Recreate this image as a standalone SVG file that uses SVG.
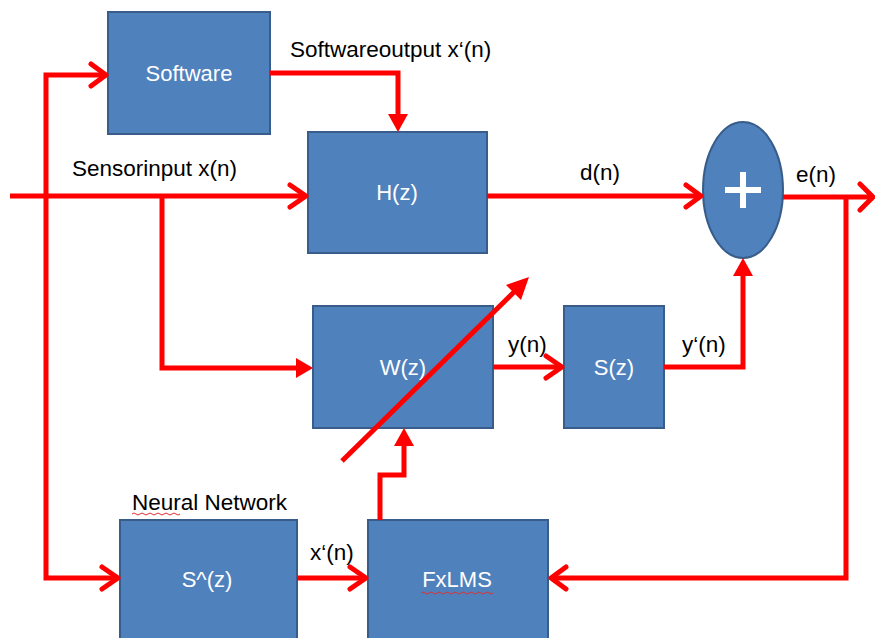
<svg xmlns="http://www.w3.org/2000/svg" width="875" height="638" viewBox="0 0 875 638">
  <defs>
    <style>
      .blk { fill: #4f81bd; stroke: #385d8a; stroke-width: 2; }
      .in { font-family: "Liberation Sans", Arial, sans-serif; font-size: 22px; fill: #ffffff; text-anchor: middle; }
      .lbl { font-family: "Liberation Sans", Arial, sans-serif; font-size: 22.5px; fill: #000000; }
      .wire { fill: none; stroke: #ff0000; stroke-width: 5; stroke-linejoin: miter; }
      .chev { fill: none; stroke: #ff0000; stroke-width: 5; stroke-linecap: round; stroke-linejoin: round; }
      .tri { fill: #ff0000; }
      .squig { fill: none; stroke: #e03030; stroke-width: 1; }
    </style>
  </defs>
  <rect width="875" height="638" fill="#ffffff"/>

  <!-- blocks -->
  <g id="software">
    <rect class="blk" x="108" y="12" width="162" height="122"/>
    <text class="in" x="189" y="81">Software</text>
  </g>
  <g id="hz">
    <rect class="blk" x="308" y="132" width="179" height="121"/>
    <text class="in" x="397" y="200">H(z)</text>
  </g>
  <g id="wz">
    <rect class="blk" x="313" y="306" width="180" height="122"/>
    <text class="in" x="403" y="375">W(z)</text>
  </g>
  <g id="sz">
    <rect class="blk" x="564" y="306" width="100" height="122"/>
    <text class="in" x="614" y="375">S(z)</text>
  </g>
  <g id="shatz">
    <rect class="blk" x="120" y="520" width="177" height="125"/>
    <text class="in" x="207" y="587">S^(z)</text>
  </g>
  <g id="fxlms">
    <rect class="blk" x="368" y="520" width="180" height="125"/>
    <text class="in" x="457" y="587">FxLMS</text>
    <path class="squig" d="M421,593 q2,-2 4,0 t4,0 t4,0 t4,0 t4,0 t4,0 t4,0 t4,0 t4,0 t4,0 t4,0 t4,0 t4,0 t4,0 t4,0 t4,0 t4,0 t4,0"/>
  </g>
  <g id="sum">
    <ellipse class="blk" cx="743" cy="190" rx="40" ry="68"/>
    <path d="M743,172 V208 M725,190 H761" stroke="#ffffff" stroke-width="6" fill="none"/>
  </g>

  <!-- labels -->
  <g id="labels">
    <text class="lbl" x="290" y="57">Softwareoutput x‘(n)</text>
    <text class="lbl" x="72" y="176">Sensorinput x(n)</text>
    <text class="lbl" x="580" y="180">d(n)</text>
    <text class="lbl" x="796" y="182">e(n)</text>
    <text class="lbl" x="508" y="352">y(n)</text>
    <text class="lbl" x="682" y="352">y‘(n)</text>
    <text class="lbl" x="310" y="560">x‘(n)</text>
    <text class="lbl" x="132" y="510" textLength="155" lengthAdjust="spacingAndGlyphs">Neural Network</text>
    <path class="squig" d="M132,514 q2,-2 4,0 t4,0 t4,0 t4,0 t4,0 t4,0 t4,0 t4,0 t4,0 t4,0 t4,0 t4,0"/>
  </g>

  <!-- connectors -->
  <g id="connectors">
    <!-- sensor input to H(z) -->
    <path class="wire" d="M10,196 H304"/>
    <path class="chev" d="M290,185 L306,196 L290,207"/>
    <!-- branch to W(z) -->
    <path class="wire" d="M162,196 V368 H300"/>
    <polygon class="tri" points="313,368 296,358 296,378"/>
    <!-- left feed to Software and S^(z) -->
    <path class="wire" d="M104,75 H46 V578 H116"/>
    <path class="chev" d="M91,64 L106,75 L91,86"/>
    <path class="chev" d="M102,567 L118,578 L102,589"/>
    <!-- Software to H(z) -->
    <path class="wire" d="M270,73 H398 V118"/>
    <polygon class="tri" points="398,132 388,114 408,114"/>
    <!-- H(z) to sum -->
    <path class="wire" d="M487,196 H700"/>
    <path class="chev" d="M686,185 L701,196 L686,207"/>
    <!-- sum output -->
    <path class="wire" d="M783,197 H870"/>
    <path class="chev" d="M860,184 L873,197 L860,210"/>
    <!-- error feedback to FxLMS -->
    <path class="wire" d="M846,197 V578 H552"/>
    <path class="chev" d="M566,567 L551,578 L566,589"/>
    <!-- W(z) to S(z) -->
    <path class="wire" d="M493,367 H560"/>
    <path class="chev" d="M546,356 L562,367 L546,378"/>
    <!-- S(z) to sum -->
    <path class="wire" d="M664,367 H743 V272"/>
    <polygon class="tri" points="743,258 733,276 753,276"/>
    <!-- S^(z) to FxLMS -->
    <path class="wire" d="M297,578 H364"/>
    <path class="chev" d="M350,567 L366,578 L350,589"/>
    <!-- FxLMS to W(z) adaptation -->
    <path class="wire" d="M380,520 V475 H404 V442"/>
    <polygon class="tri" points="404,428 394,446 414,446"/>
    <!-- adaptive filter diagonal -->
    <path class="wire" d="M342,461 L514,292"/>
    <polygon class="tri" points="529,277 506,285 521,300"/>
  </g>
</svg>
